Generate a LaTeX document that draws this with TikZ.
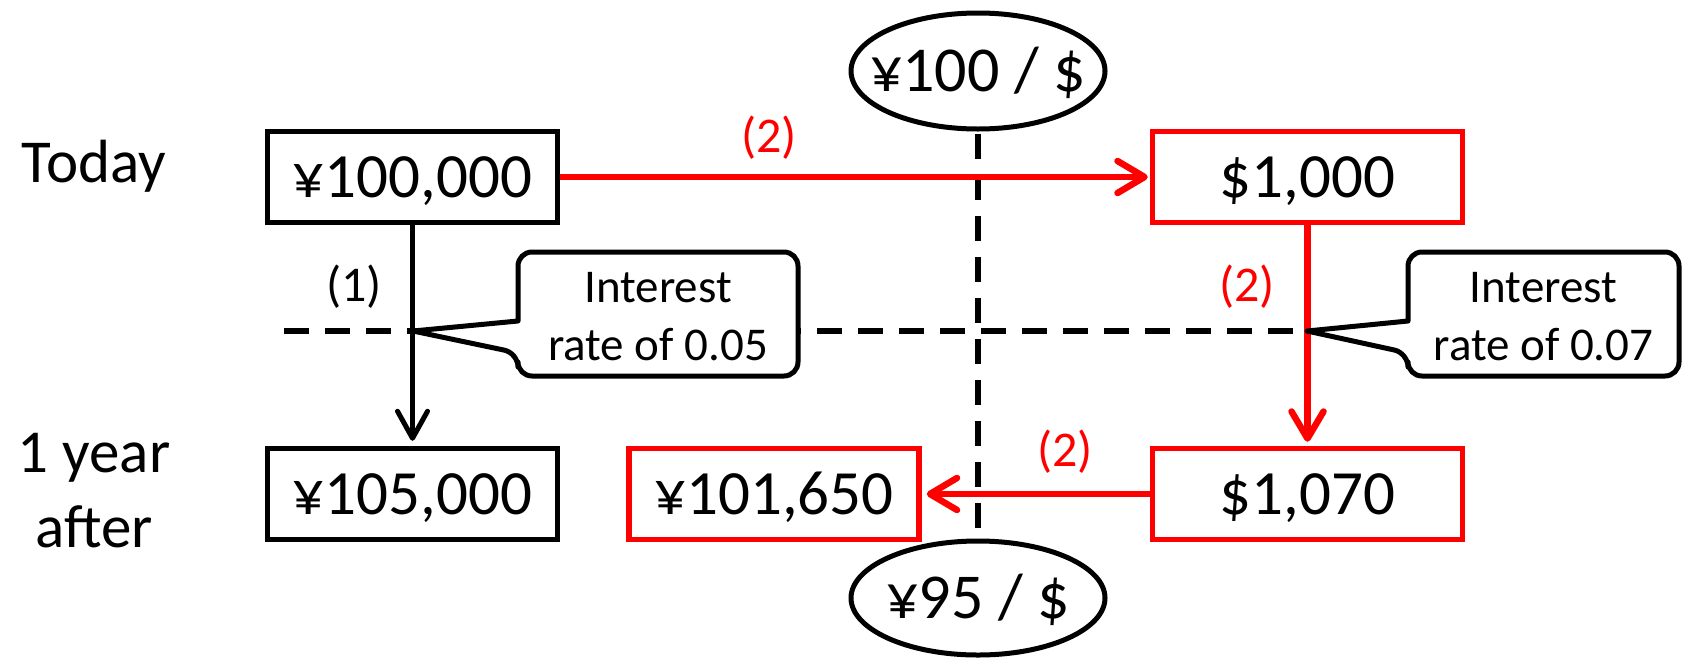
\documentclass[tikz,border=0pt]{standalone}
\usepackage{fontspec}
\setmainfont{Carlito}
\usetikzlibrary{arrows.meta}
\begin{document}
\begin{tikzpicture}[x=1pt,y=-1pt,
  valbox/.style={draw, line width=5.5pt, fill=white, minimum height=91pt, inner sep=0pt,
    text height=40pt, text depth=0pt, font=\fontsize{63}{72}\selectfont},
  redbox/.style={valbox, draw=red},
  sidelbl/.style={font=\fontsize{61}{75}\selectfont, align=center},
  steplbl/.style={font=\fontsize{50}{60}\selectfont},
  rate/.style={font=\fontsize{64}{72}\selectfont, inner sep=0pt, text height=40.5pt, text depth=0pt},
  ratering/.style={draw, line width=5pt},
  calltext/.style={font=\fontsize{47}{58}\selectfont, align=center},
  callbox/.style={draw, fill=white, line width=5pt, line join=round},
  guide/.style={draw, line width=5.5pt, dash pattern=on 25pt off 16pt},
  blk/.style={draw, line width=5pt, -{Straight Barb[length=27pt,width=30pt,round]}},
  redarr/.style={draw=red, line width=6.5pt, -{Straight Barb[length=27pt,width=32pt,round]}}
]
\useasboundingbox (0,0) rectangle (1683,659);

% guide lines
\coordinate (vtop) at (978,134);
\coordinate (vbot) at (978,531);
\coordinate (hleft) at (284,331);
\coordinate (hright) at (1307,331);
\draw[guide] (vtop) -- (vbot);
\draw[guide] (hleft) -- (hright);

% exchange rates
\node[rate] (r1) at (978,71) {¥100 / \$};
\draw[ratering] (r1.center) ellipse [x radius=127, y radius=58];
\node[rate] (r2) at (978,598) {¥95 / \$};
\draw[ratering] (r2.center) ellipse [x radius=127, y radius=57];

% side labels
\node[sidelbl] (today) at (94,166) {Today};
\node[sidelbl] (after) at (94,491) {1 year\\after};

% value boxes
\node[valbox, minimum width=290pt] (a) at (412.5,177) {¥100,000};
\node[redbox, minimum width=310pt] (b) at (1307.5,177) {\$1,000};
\node[valbox, minimum width=290pt] (c) at (412.5,494) {¥105,000};
\node[redbox, minimum width=290pt] (d) at (774,494) {¥101,650};
\node[redbox, minimum width=310pt] (e) at (1307.5,494) {\$1,070};

% arrows
\draw[blk, shorten >=5pt] (a.south) -- (c.north);
\draw[redarr, shorten >=2pt] (a.east) -- (b.west);
\draw[redarr, shorten >=4pt] (b.south) -- (e.north);
\draw[redarr, shorten >=5pt] (e.west) -- (d.east);

% step labels
\node[steplbl, text=red] (s2a) at (769,138) {(2)};
\node[steplbl] (s1) at (354,287) {(1)};
\node[steplbl, text=red] (s2b) at (1247,287) {(2)};
\node[steplbl, text=red] (s2c) at (1065,452) {(2)};

% callouts
\draw[callbox] (518,321) [rounded corners=14pt] -- (518,252) -- (798,252) -- (798,376) -- (518,376) -- (518,353) [sharp corners] -- (413,331) -- cycle;
\node[calltext] (i1) at (658,317) {Interest\\rate of 0.05};
\draw[callbox] (1408,321) [rounded corners=14pt] -- (1408,252) -- (1679,252) -- (1679,376) -- (1408,376) -- (1408,353) [sharp corners] -- (1307,331) -- cycle;
\node[calltext] (i2) at (1543.5,317) {Interest\\rate of 0.07};
\end{tikzpicture}
\end{document}
